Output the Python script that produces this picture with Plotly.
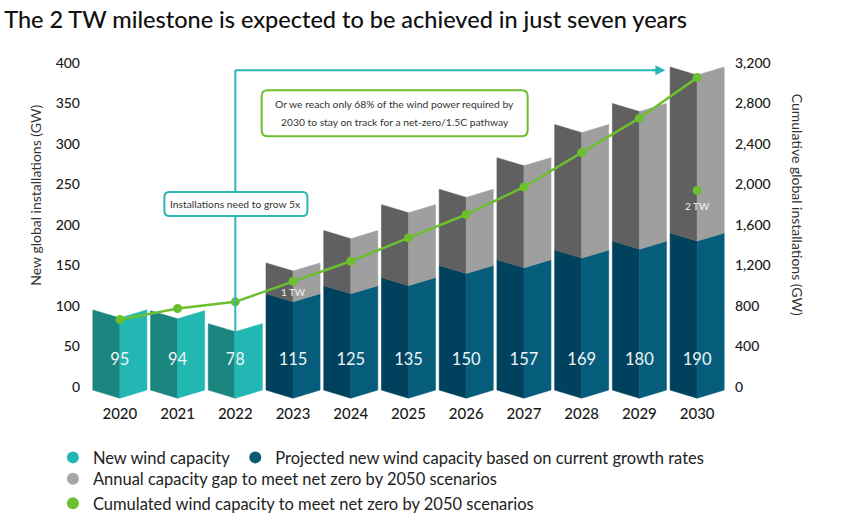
import plotly.graph_objects as go

# ---------------- data ----------------
years = ["2020", "2021", "2022", "2023", "2024", "2025", "2026", "2027", "2028", "2029", "2030"]
new_wind = [95, 94, 78, None, None, None, None, None, None, None, None]
projected = [None, None, None, 115, 125, 135, 150, 157, 169, 180, 190]
capacity_gap = [None, None, None, 38, 68, 90, 94, 126, 155, 170, 205]
cumulative = [666, 774, 840, 1044, 1241, 1472, 1703, 1975, 2315, 2655, 3056]
milestone_year_idx = 10
milestone_value = 1940
left_ticks = [0, 50, 100, 150, 200, 250, 300, 350, 400]
right_ticks = [0, 400, 800, 1200, 1600, 2000, 2400, 2800, 3200]

# ---------------- style ----------------
FONT = "Lato"
HALF = 0.468      # half bar width (x units)
FOLD = 10         # depth of the V fold (left-axis units)
BASE = -4         # bottom edge of the folded bars
C_NEW_L, C_NEW_R = "#1b8680", "#22b7b2"
C_PROJ_L, C_PROJ_R = "#00425d", "#065d7b"
C_GAP_L, C_GAP_R = "#606060", "#9f9f9f"
C_GREEN = "#6cbf2f"
C_TEAL = "#2bb6b8"

fig = go.Figure()


def halves(i, lo, hi):
    """return left and right half polygons of a folded bar segment"""
    left_x = [i - HALF, i, i, i - HALF, i - HALF, None]
    left_y = [lo, lo - FOLD, hi - FOLD, hi, lo, None]
    right_x = [i, i + HALF, i + HALF, i, i, None]
    right_y = [lo - FOLD, lo, hi, hi - FOLD, lo - FOLD, None]
    return left_x, left_y, right_x, right_y


polys = {k: ([], []) for k in [C_NEW_L, C_NEW_R, C_PROJ_L, C_PROJ_R, C_GAP_L, C_GAP_R]}
for i in range(len(years)):
    if new_wind[i] is not None:
        lx, ly, rx, ry = halves(i, BASE, new_wind[i])
        polys[C_NEW_L][0].extend(lx); polys[C_NEW_L][1].extend(ly)
        polys[C_NEW_R][0].extend(rx); polys[C_NEW_R][1].extend(ry)
    if projected[i] is not None:
        lx, ly, rx, ry = halves(i, BASE, projected[i])
        polys[C_PROJ_L][0].extend(lx); polys[C_PROJ_L][1].extend(ly)
        polys[C_PROJ_R][0].extend(rx); polys[C_PROJ_R][1].extend(ry)
        top = projected[i] + capacity_gap[i]
        lx, ly, rx, ry = halves(i, projected[i], top)
        polys[C_GAP_L][0].extend(lx); polys[C_GAP_L][1].extend(ly)
        polys[C_GAP_R][0].extend(rx); polys[C_GAP_R][1].extend(ry)

for col, (px, py) in polys.items():
    fig.add_trace(go.Scatter(x=px, y=py, fill="toself", fillcolor=col, mode="lines",
                             line=dict(width=0.6, color=col), hoverinfo="skip",
                             showlegend=False))

# value labels inside bars
vals = [n if n is not None else p for n, p in zip(new_wind, projected)]
fig.add_trace(go.Scatter(x=list(range(len(years))), y=[32] * len(years), mode="text",
                         text=[str(v) for v in vals],
                         textfont=dict(family=FONT, size=16.5, color="#eef4f5"),
                         hoverinfo="skip", showlegend=False))

# cumulative line
fig.add_trace(go.Scatter(x=list(range(len(years))), y=cumulative, yaxis="y2",
                         mode="lines+markers", line=dict(color=C_GREEN, width=2.5),
                         marker=dict(color=C_GREEN, size=9), showlegend=False,
                         hoverinfo="skip"))
fig.add_trace(go.Scatter(x=[milestone_year_idx], y=[milestone_value], yaxis="y2",
                         mode="markers", marker=dict(color=C_GREEN, size=9),
                         showlegend=False, hoverinfo="skip"))
fig.add_trace(go.Scatter(x=[3, milestone_year_idx], y=[925, 1775], yaxis="y2", mode="text",
                         text=["1 TW", "2 TW"],
                         textfont=dict(family=FONT, size=10, color="#f2f2f2"),
                         showlegend=False, hoverinfo="skip"))

# legend entries (two legends to reproduce the 2 + 1 + 1 layout)
for name, col, lg in [("New wind capacity", C_NEW_R, "legend"),
                      ("Projected new wind capacity based on current growth rates", "#0a5a74", "legend"),
                      ("Annual capacity gap to meet net zero by 2050 scenarios", "#a6a6a6", "legend2"),
                      ("Cumulated wind capacity to meet net zero by 2050 scenarios", C_GREEN, "legend2")]:
    fig.add_trace(go.Scatter(x=[None], y=[None], mode="markers", name=name, legend=lg,
                             marker=dict(color=col, size=9, symbol="circle")))

# ---------------- annotations ----------------
ARROW_Y = 391
shapes = [
    dict(type="line", xref="x", yref="y", x0=2, x1=2, y0=BASE - FOLD, y1=ARROW_Y,
         line=dict(color=C_TEAL, width=2)),
    dict(type="line", xref="x", yref="y", x0=2, x1=9.35, y0=ARROW_Y, y1=ARROW_Y,
         line=dict(color=C_TEAL, width=2)),
]


def rounded_box(xc, yc, w, h, r, col):
    p = (f"M {-w/2 + r},{-h/2} L {w/2 - r},{-h/2} Q {w/2},{-h/2} {w/2},{-h/2 + r} "
         f"L {w/2},{h/2 - r} Q {w/2},{h/2} {w/2 - r},{h/2} L {-w/2 + r},{h/2} "
         f"Q {-w/2},{h/2} {-w/2},{h/2 - r} L {-w/2},{-h/2 + r} Q {-w/2},{-h/2} {-w/2 + r},{-h/2} Z")
    return dict(type="path", xref="x", yref="y", xsizemode="pixel", ysizemode="pixel",
                xanchor=xc, yanchor=yc, path=p, fillcolor="white",
                line=dict(color=col, width=2))


shapes.append(rounded_box(2.01, 226, 143, 24, 5, C_TEAL))
shapes.append(rounded_box(4.76, 338, 266, 46, 6, C_GREEN))

BOX_FONT = dict(family=FONT, size=10.3, color="#333333")
annotations = [
    dict(x=9.45, y=ARROW_Y, xref="x", yref="y", ax=9.2, ay=ARROW_Y, axref="x", ayref="y",
         showarrow=True, arrowhead=2, arrowsize=1, arrowwidth=2, arrowcolor=C_TEAL, text=""),
    dict(x=2.01, y=226, xref="x", yref="y", text="Installations need to grow 5x",
         showarrow=False, font=BOX_FONT),
    dict(x=4.76, y=349, xref="x", yref="y",
         text="Or we reach only 68% of the wind power required by",
         showarrow=False, font=BOX_FONT),
    dict(x=4.76, y=327, xref="x", yref="y",
         text="2030 to stay on track for a net-zero/1.5C pathway",
         showarrow=False, font=BOX_FONT),
    dict(x=-0.088, y=0.603, xref="paper", yref="paper", text="New global installations (GW)",
         textangle=-90, xanchor="center", yanchor="middle", showarrow=False,
         font=dict(family=FONT, size=14, color="#333333")),
    dict(x=1.112, y=0.576, xref="paper", yref="paper", text="Cumulative global installations (GW)",
         textangle=90, xanchor="center", yanchor="middle", showarrow=False,
         font=dict(family=FONT, size=14, color="#333333")),
]

LEG_FONT = dict(family=FONT, size=16.5, color="#222222")
TICK_FONT = dict(family=FONT, size=14, color="#1a1a1a", weight=500)
fig.update_layout(
    width=842, height=520,
    margin=dict(l=91, r=116, t=59, b=117, autoexpand=False),
    paper_bgcolor="white", plot_bgcolor="white",
    title=dict(text="The 2 TW milestone is expected to be achieved in just seven years",
               x=0.005, xanchor="left", y=0.962, yanchor="middle",
               font=dict(family=FONT, size=23.5, color="#111111", weight=500)),
    xaxis=dict(range=[-0.5, 10.5], tickvals=list(range(len(years))), ticktext=years,
               showgrid=False, zeroline=False, showline=False, ticklabelstandoff=0,
               tickfont=dict(family=FONT, size=15, color="#1a1a1a", weight=500)),
    yaxis=dict(range=[-20, 405], tickvals=left_ticks, showgrid=False, zeroline=False,
               showline=False, ticklabelstandoff=10, tickfont=TICK_FONT),
    yaxis2=dict(range=[-160, 3240], tickvals=right_ticks, tickformat=",", overlaying="y",
                side="right", showgrid=False, zeroline=False, showline=False,
                ticklabelstandoff=8, tickfont=TICK_FONT),
    shapes=shapes,
    annotations=annotations,
    showlegend=True,
    legend=dict(orientation="h", x=-0.06, xanchor="left", y=-0.108, yanchor="top",
                font=LEG_FONT, itemsizing="constant", itemwidth=30,
                bgcolor="rgba(0,0,0,0)"),
    legend2=dict(orientation="v", x=-0.06, xanchor="left", y=-0.17, yanchor="top",
                 font=LEG_FONT, itemsizing="constant", itemwidth=30, tracegroupgap=0,
                 bgcolor="rgba(0,0,0,0)"),
)

fig.write_html("out.html", config={"displayModeBar": False},
               post_script="document.body.style.margin='0';")
